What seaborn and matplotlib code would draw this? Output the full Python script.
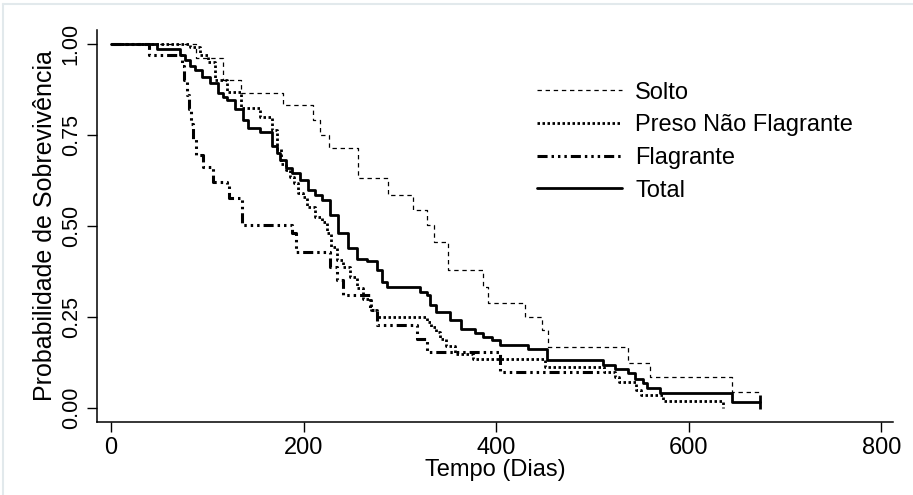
import numpy as np
import pandas as pd
import seaborn as sns
import matplotlib.pyplot as plt
from matplotlib.lines import Line2D

# Kaplan-Meier curves: day of each step, survival after it
solto_t = [0, 88, 116, 135, 179, 210, 217, 226, 256, 288, 314, 328, 335, 350,
           386, 392, 430, 448, 454, 537, 560, 645, 674]
solto_p = [1.0, 0.96, 0.90, 0.865, 0.832, 0.79, 0.75, 0.714, 0.632, 0.585, 0.544,
           0.503, 0.456, 0.38, 0.333, 0.29, 0.25, 0.214, 0.168, 0.124, 0.085,
           0.044, 0.044]

preso_t = [0, 82, 92, 101, 108, 120, 135, 155, 167, 172, 177, 182, 186, 190,
           194, 199, 204, 212, 219, 224, 228, 235, 241, 248, 255, 262, 270, 276,
           328, 332, 337, 342, 348, 357, 376, 451, 512, 523, 527, 545, 550, 573,
           636]
preso_p = [1.0, 0.99, 0.97, 0.95, 0.90, 0.868, 0.824, 0.80, 0.764, 0.71, 0.67,
           0.654, 0.635, 0.618, 0.59, 0.58, 0.552, 0.525, 0.511, 0.48, 0.442,
           0.407, 0.387, 0.36, 0.33, 0.30, 0.27, 0.25, 0.236, 0.222, 0.21, 0.19,
           0.17, 0.15, 0.135, 0.113, 0.10, 0.085, 0.071, 0.05, 0.035, 0.019, 0.0]

flag_t = [0, 40, 74, 76, 79, 81, 83, 85, 88, 96, 106, 120, 123, 136, 188, 192,
          227, 235, 241, 269, 276, 318, 328, 404, 510]
flag_p = [1.0, 0.97, 0.94, 0.90, 0.86, 0.82, 0.78, 0.74, 0.695, 0.662, 0.62,
          0.613, 0.577, 0.503, 0.48, 0.43, 0.387, 0.352, 0.31, 0.27, 0.228,
          0.19, 0.154, 0.099, 0.099]

total_t = [0, 48, 72, 77, 82, 87, 95, 103, 111, 116, 120, 129, 137, 142, 155,
           167, 172, 176, 182, 188, 196, 205, 212, 219, 227, 236, 246, 255, 266,
           276, 281, 287, 321, 328, 331, 337, 352, 363, 378, 386, 396, 404, 433,
           453, 511, 523, 537, 544, 552, 557, 570, 645, 674]
total_p = [1.0, 0.985, 0.97, 0.956, 0.94, 0.929, 0.91, 0.893, 0.865, 0.855,
           0.846, 0.82, 0.79, 0.769, 0.758, 0.72, 0.70, 0.68, 0.66, 0.645, 0.626,
           0.60, 0.585, 0.571, 0.53, 0.48, 0.44, 0.41, 0.405, 0.38, 0.345, 0.333,
           0.32, 0.31, 0.283, 0.264, 0.242, 0.217, 0.206, 0.195, 0.187, 0.173,
           0.162, 0.132, 0.118, 0.107, 0.096, 0.08, 0.069, 0.055, 0.041, 0.016,
           0.016]

labels = ['Solto', 'Preso Não Flagrante', 'Flagrante', 'Total']

sns.set_style('ticks')
plt.rcParams['font.family'] = ['Liberation Sans', 'DejaVu Sans']
plt.rcParams['text.color'] = 'black'
plt.rcParams['axes.labelcolor'] = 'black'
plt.rcParams['xtick.color'] = 'black'
plt.rcParams['ytick.color'] = 'black'

fig = plt.figure(figsize=(9.13, 4.95), dpi=100)
ax = fig.add_axes([97/913, 73/495, 796/913, 392/495])

styles = [
    dict(lw=0.9, linestyle=(0, (3.5, 3))),                                      # solto
    dict(lw=2.0, linestyle=(0, (0.9, 0.9))),                                    # preso
    dict(lw=2.2, linestyle=(0, (3.3, 1.3, 0.8, 1.3, 0.8, 1.3, 0.8, 1.3))),      # flagrante
    dict(lw=2.0, linestyle='-'),                                                # total
]
series = [(solto_t, solto_p), (preso_t, preso_p), (flag_t, flag_p), (total_t, total_p)]

for (t, p), st in zip(series, styles):
    sns.lineplot(x=t, y=p, ax=ax, drawstyle='steps-post', color='black',
                 estimator=None, sort=False, legend=False, **st)

# censoring tick at the end of the total curve
sns.scatterplot(x=[total_t[-1]], y=[total_p[-1]], ax=ax, marker='|', s=90,
                color='black', linewidth=2, legend=False)

ax.set_xlim(-14.5, 812)
ax.set_ylim(-0.038, 1.038)
ax.set_xticks([0, 200, 400, 600, 800])
ax.set_yticks([0, 0.25, 0.5, 0.75, 1.0])
ax.set_yticklabels(['0.00', '0.25', '0.50', '0.75', '1.00'], rotation=90, va='center')
ax.tick_params(axis='x', labelsize=17, length=7, width=1, pad=4)
ax.tick_params(axis='y', labelsize=15.5, length=7, width=1, pad=4)
ax.set_xlabel('Tempo (Dias)', fontsize=17, labelpad=0)
ax.set_ylabel('Probabilidade de Sobrevivência', fontsize=18, labelpad=3)
sns.despine(ax=ax)
for s in ['left', 'bottom']:
    ax.spines[s].set_linewidth(1.1)
    ax.spines[s].set_color('black')

handles = [Line2D([], [], color='black', **st) for st in styles]
ax.legend(handles, labels, loc='upper left', bbox_to_anchor=(0.553, 0.868),
          frameon=False, fontsize=17, handlelength=3.6, handletextpad=0.55,
          labelspacing=0.45, borderpad=0, borderaxespad=0)

# faint frame of the original page crop
fig.add_artist(Line2D([3/913, 1], [1 - 4/495, 1 - 4/495], color='#e2e9ec', lw=1.5))
fig.add_artist(Line2D([3/913, 3/913], [0, 1 - 4/495], color='#e2e9ec', lw=1.5))

plt.savefig('out.png', dpi=100)
